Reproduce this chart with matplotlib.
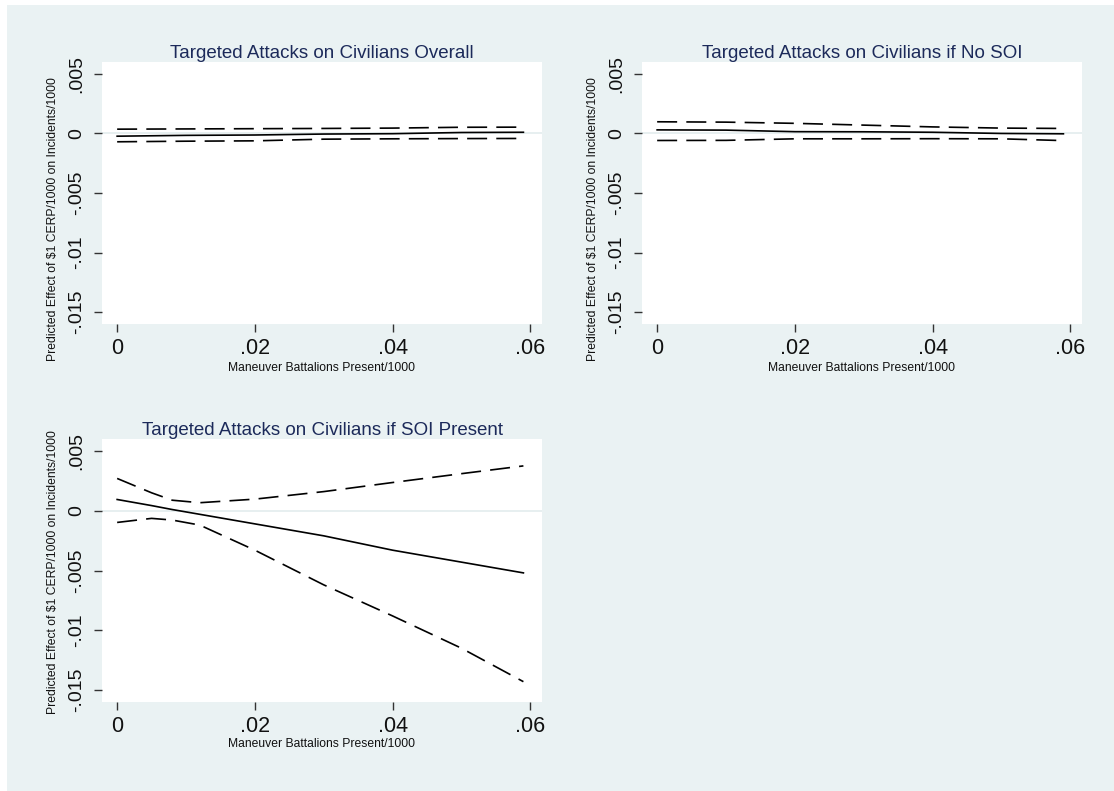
import matplotlib
matplotlib.use("Agg")
import matplotlib.pyplot as plt
from matplotlib.patches import Rectangle

plt.rcParams['font.family'] = ['Liberation Sans', 'DejaVu Sans']

# x grid (Maneuver Battalions Present/1000)
x_flat = [0, 0.01, 0.02, 0.03, 0.04, 0.05, 0.059]
x_soi = [0, 0.005, 0.008, 0.012, 0.02, 0.03, 0.04, 0.05, 0.059]

# overall
overall_est = [-0.00023, -0.00016, -0.00013, -0.00005, -0.00002, 0.00008, 0.0001]
overall_hi = [0.00036, 0.00038, 0.0004, 0.00042, 0.00045, 0.00052, 0.00053]
overall_lo = [-0.0007, -0.00065, -0.00062, -0.00048, -0.00045, -0.00043, -0.00042]

# no SOI
nosoi_est = [0.0003, 0.00028, 0.00015, 0.00014, 0.0001, 0.0, -0.00003]
nosoi_hi = [0.00098, 0.00095, 0.00085, 0.0007, 0.00055, 0.00045, 0.00042]
nosoi_lo = [-0.00059, -0.00058, -0.00045, -0.00045, -0.00044, -0.00045, -0.0006]

# SOI present
soi_est = [0.00094, 0.00043, 0.0001, -0.0003, -0.0011, -0.0021, -0.0033, -0.0043, -0.0052]
soi_hi = [0.0027, 0.0015, 0.00088, 0.00067, 0.00097, 0.0016, 0.00236, 0.0031, 0.00375]
soi_lo = [-0.00098, -0.00064, -0.00078, -0.0012, -0.0033, -0.0062, -0.0088, -0.0115, -0.0143]

titles = ["Targeted Attacks on Civilians Overall",
          "Targeted Attacks on Civilians if No SOI",
          "Targeted Attacks on Civilians if SOI Present"]
xticks = [0, 0.02, 0.04, 0.06]
xticklabels = ["0", ".02", ".04", ".06"]
yticks = [0.005, 0, -0.005, -0.01, -0.015]
yticklabels = [".005", "0", "-.005", "-.01", "-.015"]
xlabel = "Maneuver Battalions Present/1000"
ylabel = "Predicted Effect of $1 CERP/1000 on Incidents/1000"

bg = "#eaf2f3"
title_col = "#1c2a5a"

fig = plt.figure(figsize=(11.14, 7.91), dpi=100, facecolor="white")
fig.patches.append(Rectangle((7 / 1114, 0), 1, 1 - 5 / 791,
                             transform=fig.transFigure, facecolor=bg,
                             edgecolor="none", zorder=-10))

W = 1114
H = 791
boxes = [(102, 62, 542, 324), (642, 62, 1082, 324), (102, 439, 542, 702)]
panels = [(x_flat, overall_est, overall_hi, overall_lo),
          (x_flat, nosoi_est, nosoi_hi, nosoi_lo),
          (x_soi, soi_est, soi_hi, soi_lo)]
# label positions in axes fractions (y label centre, x label centre)
ylab_y = [0.40, 0.40, 0.494]
xlab_y = [-0.168, -0.168, -0.16]

for i, ((l, t, r, b), (xs, est, hi, lo), title) in enumerate(zip(boxes, panels, titles)):
    ax = fig.add_axes([l / W, 1 - b / H, (r - l) / W, (b - t) / H])
    ax.set_facecolor("white")
    for s in ax.spines.values():
        s.set_visible(False)
    ax.axhline(0, color="#e3ecee", lw=1.2, zorder=1)
    ax.plot(xs, est, color="black", lw=1.2, zorder=3)
    ax.plot(xs, hi, color="black", lw=1.2, dashes=(12, 5.5), zorder=3)
    ax.plot(xs, lo, color="black", lw=1.2, dashes=(12, 5.5), zorder=3)
    ax.set_xlim(-0.0022, 0.0617)
    ax.set_ylim(-0.016, 0.006)
    ax.set_xticks(xticks)
    ax.set_xticklabels(xticklabels)
    ax.set_yticks(yticks)
    ax.set_yticklabels(yticklabels, rotation=90, va="center")
    ax.tick_params(axis="both", direction="out", length=6, width=1,
                   color="#333333", labelcolor="#111111")
    ax.tick_params(axis="x", pad=4, labelsize=15.5)
    ax.tick_params(axis="y", pad=6, labelsize=14)
    ax.set_title(title, fontsize=13.5, color=title_col, pad=3)
    ax.set_xlabel(xlabel, fontsize=8.7, color="#111111")
    ax.set_ylabel(ylabel, fontsize=8.7, color="#111111")
    ax.xaxis.set_label_coords(0.5, xlab_y[i])
    ax.yaxis.set_label_coords(-0.111, ylab_y[i])
    ax.xaxis.label.set_va("center")
    ax.yaxis.label.set_va("center")

fig.savefig("out.png", dpi=100, facecolor="white")
